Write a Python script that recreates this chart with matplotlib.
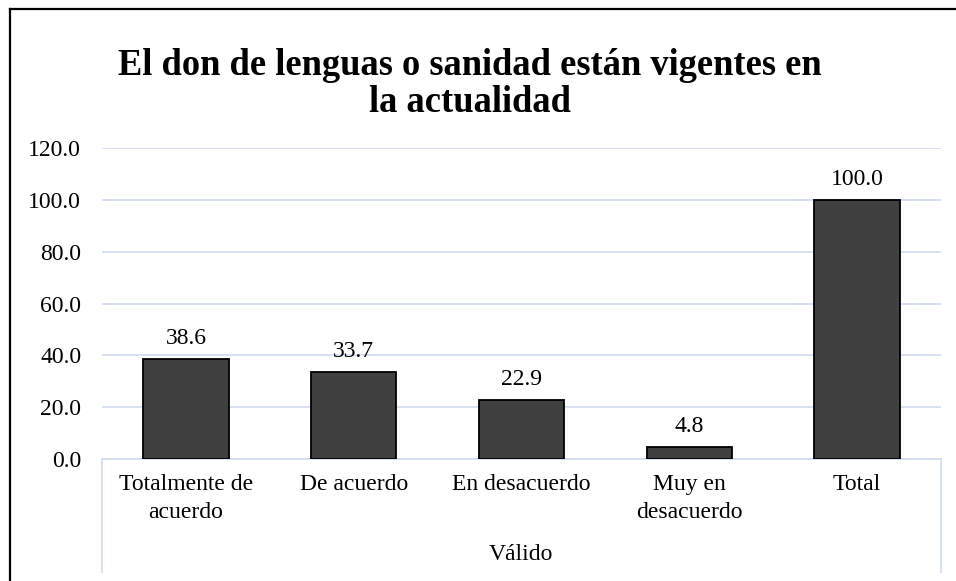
import matplotlib
matplotlib.use("Agg")
import matplotlib.pyplot as plt
from matplotlib.lines import Line2D

categories = ["Totalmente de\nacuerdo", "De acuerdo", "En desacuerdo", "Muy en\ndesacuerdo", "Total"]
values = [38.6, 33.7, 22.9, 4.8, 100.0]
group_label = "Válido"
title = "El don de lenguas o sanidad están vigentes en\nla actualidad"
yticks = [0, 20, 40, 60, 80, 100, 120]

plt.rcParams['font.family'] = ['Liberation Serif', 'DejaVu Serif']
FS = 17
grid_c = '#d3def0'

fig = plt.figure(figsize=(9.56, 5.81), dpi=100)
ax = fig.add_axes([102/956, 1-459/581, (941-102)/956, (459-148)/581])

x = list(range(len(categories)))
ax.bar(x, values, width=0.51, color='#404040', edgecolor='black', linewidth=1.3, zorder=3)
for xi, v in zip(x, values):
    ax.annotate(f"{v:.1f}", (xi, v), xytext=(0, 7), textcoords='offset points',
                ha='center', va='bottom', fontsize=FS)

ax.set_xlim(-0.5, len(categories)-0.5)
ax.set_ylim(0, 120)
ax.set_yticks(yticks)
ax.set_yticklabels([f"{t:.1f}" for t in yticks], fontsize=FS)
ax.tick_params(axis='y', length=0, pad=15)
ax.set_xticks(x)
ax.set_xticklabels(categories, fontsize=FS, linespacing=1.45)
ax.tick_params(axis='x', length=0, pad=11)
ax.yaxis.grid(True, color=grid_c, linewidth=1.3, zorder=0)
ax.set_axisbelow(True)
for s in ['top', 'right', 'left']:
    ax.spines[s].set_visible(False)
ax.spines['bottom'].set_color(grid_c)
ax.spines['bottom'].set_linewidth(1.3)

# group label and separators
fig.text(521/956, 1-555/581, group_label, ha='center', va='center', fontsize=FS)
for px in (102, 941):
    fig.add_artist(Line2D([px/956, px/956], [1-459/581, 1-572/581], color=grid_c, linewidth=1.3))

# title
fig.text(470/956, 1-84/581, title, ha='center', va='center', fontsize=26.3,
         fontweight='bold', linespacing=1.1)

# chart frame (left and top visible)
fig.add_artist(Line2D([10/956, 10/956], [0, 1-9/581], color='black', linewidth=1.6))
fig.add_artist(Line2D([10/956, 1], [1-9/581, 1-9/581], color='black', linewidth=1.6))

fig.savefig("out.png", dpi=100)
